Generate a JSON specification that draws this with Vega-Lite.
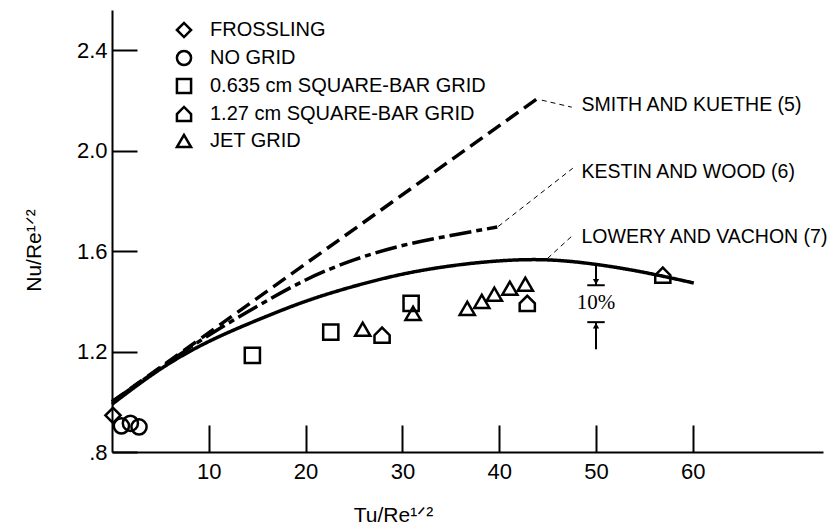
{
  "$schema": "https://vega.github.io/schema/vega-lite/v6.json",
  "autosize": "none",
  "width": 711,
  "height": 442,
  "padding": {"left": 112, "top": 10, "right": 12, "bottom": 77},
  "background": "white",
  "config": {
    "view": {"stroke": null},
    "font": "Liberation Sans",
    "axis": {"domainColor": "black", "domainWidth": 2, "tickColor": "black", "tickWidth": 2, "grid": false, "labelColor": "black", "titleColor": "black", "labelFont": "Liberation Sans", "titleFont": "Liberation Sans", "labelFontSize": 22, "titleFontSize": 21, "titleFontWeight": "normal"}
  },
  "datasets": {
    "pts": [
      {"x": 0.1, "y": 0.946, "s": "FROSSLING"},
      {"x": 0.97, "y": 0.904, "s": "NO GRID"},
      {"x": 1.9, "y": 0.914, "s": "NO GRID"},
      {"x": 2.79, "y": 0.9, "s": "NO GRID"},
      {"x": 14.5, "y": 1.185, "s": "0.635 cm SQUARE-BAR GRID"},
      {"x": 22.6, "y": 1.277, "s": "0.635 cm SQUARE-BAR GRID"},
      {"x": 30.9, "y": 1.392, "s": "0.635 cm SQUARE-BAR GRID"},
      {"x": 27.9, "y": 1.265, "s": "1.27 cm SQUARE-BAR GRID"},
      {"x": 42.9, "y": 1.392, "s": "1.27 cm SQUARE-BAR GRID"},
      {"x": 56.9, "y": 1.504, "s": "1.27 cm SQUARE-BAR GRID"},
      {"x": 25.9, "y": 1.289, "s": "JET GRID"},
      {"x": 31.1, "y": 1.352, "s": "JET GRID"},
      {"x": 36.7, "y": 1.372, "s": "JET GRID"},
      {"x": 38.2, "y": 1.4, "s": "JET GRID"},
      {"x": 39.5, "y": 1.428, "s": "JET GRID"},
      {"x": 41.1, "y": 1.452, "s": "JET GRID"},
      {"x": 42.7, "y": 1.468, "s": "JET GRID"}
    ],
    "curves": [
      {"c": "SMITH", "x": 0, "y": 1.0},
      {"c": "SMITH", "x": 44.0, "y": 2.209},
      {"c": "KESTIN", "x": 0, "y": 1.0},
      {"c": "KESTIN", "x": 5, "y": 1.135},
      {"c": "KESTIN", "x": 10, "y": 1.265},
      {"c": "KESTIN", "x": 15, "y": 1.38},
      {"c": "KESTIN", "x": 20, "y": 1.485},
      {"c": "KESTIN", "x": 25, "y": 1.565},
      {"c": "KESTIN", "x": 30, "y": 1.622},
      {"c": "KESTIN", "x": 35, "y": 1.662},
      {"c": "KESTIN", "x": 39.8, "y": 1.696},
      {"c": "LOWERY", "x": 0, "y": 0.99},
      {"c": "LOWERY", "x": 5, "y": 1.13},
      {"c": "LOWERY", "x": 10, "y": 1.24},
      {"c": "LOWERY", "x": 15, "y": 1.325},
      {"c": "LOWERY", "x": 20, "y": 1.4},
      {"c": "LOWERY", "x": 25, "y": 1.46},
      {"c": "LOWERY", "x": 30, "y": 1.508},
      {"c": "LOWERY", "x": 35, "y": 1.541},
      {"c": "LOWERY", "x": 40, "y": 1.561},
      {"c": "LOWERY", "x": 45, "y": 1.565},
      {"c": "LOWERY", "x": 50, "y": 1.547},
      {"c": "LOWERY", "x": 55, "y": 1.515},
      {"c": "LOWERY", "x": 60.1, "y": 1.473}
    ],
    "leaders": [
      {"x": 44.4, "y": 2.201, "x2": 47.5, "y2": 2.173},
      {"x": 39.9, "y": 1.698, "x2": 47.6, "y2": 1.93},
      {"x": 45.0, "y": 1.571, "x2": 47.6, "y2": 1.663}
    ],
    "labels": [
      {"x": 48.5, "y": 2.18, "t": "SMITH AND KUETHE (5)"},
      {"x": 48.5, "y": 1.914, "t": "KESTIN AND WOOD (6)"},
      {"x": 48.5, "y": 1.655, "t": "LOWERY AND VACHON (7)"}
    ],
    "err": [
      {"x": 50, "y": 1.547, "x2": 50, "y2": 1.464},
      {"x": 49.1, "y": 1.464, "x2": 50.9, "y2": 1.464},
      {"x": 49.1, "y": 1.317, "x2": 50.9, "y2": 1.317},
      {"x": 50, "y": 1.317, "x2": 50, "y2": 1.209}
    ],
    "headDown": [{"x": 50, "y": 1.478}],
    "headUp": [{"x": 50, "y": 1.303}]
  },
  "layer": [
    {
      "data": {"name": "curves"},
      "mark": {"type": "line", "interpolate": "natural", "strokeWidth": 3.5, "color": "black", "strokeCap": "butt"},
      "encoding": {
        "x": {"field": "x", "type": "quantitative", "scale": {"domain": [0, 73.45], "nice": false, "zero": false},
          "axis": {"values": [10, 20, 30, 40, 50, 60], "tickSize": -27, "labelPadding": 36, "labelExpr": "datum.value", "title": "Tu/Re¹ᐟ²", "titleX": 281, "titleY": 69, "titleBaseline": "alphabetic", "titleAlign": "center"}},
        "y": {"field": "y", "type": "quantitative", "scale": {"domain": [0.8, 2.56], "nice": false, "zero": false},
          "axis": {"values": [0.8, 1.2, 1.6, 2.0, 2.4], "tickSize": -25, "labelPadding": 30, "labelExpr": "datum.value < 0.9 ? '.8' : format(datum.value, '.1f')", "title": "Nu/Re¹ᐟ²", "titleX": -72, "titleY": 240, "titleAngle": -90, "titleBaseline": "alphabetic", "titleAlign": "center"}},
        "detail": {"field": "c"},
        "strokeDash": {"field": "c", "type": "nominal", "legend": null,
          "scale": {"domain": ["SMITH", "KESTIN", "LOWERY"], "range": [[15, 7], [22, 5, 6, 5], [1, 0]]}}
      }
    },
    {
      "data": {"name": "leaders"},
      "mark": {"type": "rule", "strokeWidth": 1, "strokeDash": [5, 4], "color": "black"},
      "encoding": {
        "x": {"field": "x", "type": "quantitative"},
        "y": {"field": "y", "type": "quantitative"},
        "x2": {"field": "x2"},
        "y2": {"field": "y2"}
      }
    },
    {
      "data": {"name": "err"},
      "mark": {"type": "rule", "strokeWidth": 2, "color": "black"},
      "encoding": {
        "x": {"field": "x", "type": "quantitative"},
        "y": {"field": "y", "type": "quantitative"},
        "x2": {"field": "x2"},
        "y2": {"field": "y2"}
      }
    },
    {
      "data": {"name": "headDown"},
      "mark": {"type": "point", "shape": "triangle-down", "filled": true, "color": "black", "size": 40, "opacity": 1},
      "encoding": {
        "x": {"field": "x", "type": "quantitative"},
        "y": {"field": "y", "type": "quantitative"}
      }
    },
    {
      "data": {"name": "headUp"},
      "mark": {"type": "point", "shape": "triangle-up", "filled": true, "color": "black", "size": 40, "opacity": 1},
      "encoding": {
        "x": {"field": "x", "type": "quantitative"},
        "y": {"field": "y", "type": "quantitative"}
      }
    },
    {
      "data": {"values": [{"x": 50, "y": 1.392, "t": "10%"}]},
      "mark": {"type": "text", "font": "Liberation Serif", "fontSize": 21, "color": "black", "align": "center", "baseline": "middle"},
      "encoding": {
        "x": {"field": "x", "type": "quantitative"},
        "y": {"field": "y", "type": "quantitative"},
        "text": {"field": "t"}
      }
    },
    {
      "data": {"name": "labels"},
      "mark": {"type": "text", "fontSize": 19.5, "color": "black", "align": "left", "baseline": "middle"},
      "encoding": {
        "x": {"field": "x", "type": "quantitative"},
        "y": {"field": "y", "type": "quantitative"},
        "text": {"field": "t"}
      }
    },
    {
      "data": {"name": "pts"},
      "mark": {"type": "point", "filled": false, "color": "black", "strokeWidth": 2.5, "size": 230, "opacity": 1},
      "encoding": {
        "x": {"field": "x", "type": "quantitative"},
        "y": {"field": "y", "type": "quantitative"},
        "shape": {"field": "s", "type": "nominal",
          "scale": {"domain": ["FROSSLING", "NO GRID", "0.635 cm SQUARE-BAR GRID", "1.27 cm SQUARE-BAR GRID", "JET GRID"],
            "range": ["diamond", "circle", "square", "M-1,1L1,1L1,0L0,-1L-1,0Z", "triangle-up"]},
          "legend": {"orient": "none", "legendX": 62, "legendY": 10, "title": null, "labelFont": "Liberation Sans", "labelFontSize": 20, "labelColor": "black", "labelLimit": 400, "symbolSize": 200, "symbolStrokeWidth": 2.5, "symbolStrokeColor": "black", "symbolFillColor": "white", "symbolOpacity": 1, "rowPadding": 2, "labelOffset": 16,
            "encode": {"symbols": {"update": {"stroke": {"value": "black"}, "strokeWidth": {"value": 2.5}, "opacity": {"value": 1}}}}}}
      }
    }
  ]
}
